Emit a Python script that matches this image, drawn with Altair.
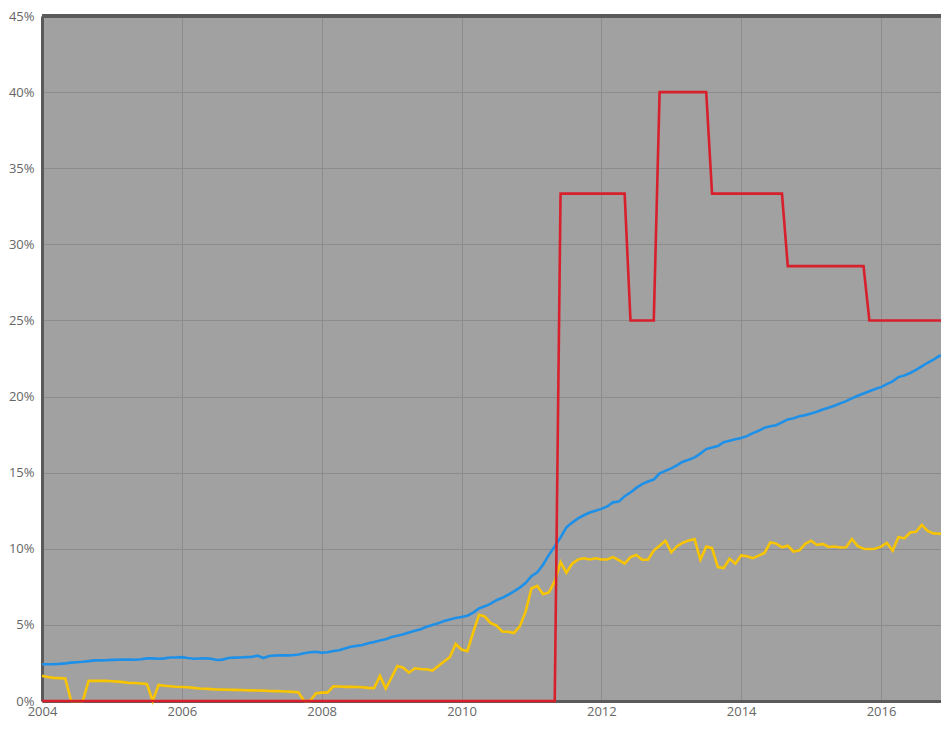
import altair as alt
import pandas as pd

# monthly series, 2004-01 .. 2017-01 (percent)
start_year = 2004
blue_vals = [
    2.41, 2.41, 2.42, 2.44, 2.47, 2.52, 2.55, 2.58, 2.62, 2.67, 2.67, 2.68,
    2.70, 2.71, 2.72, 2.72, 2.71, 2.74, 2.80, 2.80, 2.78, 2.80, 2.86, 2.86,
    2.88, 2.82, 2.78, 2.79, 2.80, 2.78, 2.69, 2.72, 2.82, 2.85, 2.86, 2.88,
    2.90, 2.98, 2.82, 2.96, 2.99, 3.00, 3.00, 3.01, 3.06, 3.14, 3.20, 3.23,
    3.17, 3.20, 3.28, 3.33, 3.45, 3.56, 3.62, 3.68, 3.80, 3.88, 3.97, 4.05,
    4.20, 4.28, 4.38, 4.50, 4.62, 4.72, 4.88, 5.00, 5.10, 5.25, 5.36, 5.45,
    5.52, 5.60, 5.80, 6.08, 6.22, 6.40, 6.62, 6.78, 6.98, 7.20, 7.45, 7.75,
    8.20, 8.45, 8.95, 9.60, 10.15, 10.75, 11.40, 11.72, 12.00, 12.20, 12.38, 12.50,
    12.62, 12.78, 13.05, 13.10, 13.45, 13.70, 14.00, 14.25, 14.42, 14.55, 14.95, 15.12,
    15.28, 15.50, 15.72, 15.85, 16.00, 16.25, 16.55, 16.65, 16.75, 17.00, 17.10, 17.20,
    17.28, 17.40, 17.60, 17.75, 17.95, 18.05, 18.12, 18.30, 18.50, 18.58, 18.70, 18.78,
    18.88, 19.00, 19.15, 19.27, 19.40, 19.55, 19.70, 19.88, 20.05, 20.20, 20.35, 20.50,
    20.62, 20.82, 21.00, 21.28, 21.38, 21.55, 21.75, 21.98, 22.22, 22.42, 22.67, 22.67,
    22.67,
]
yellow_vals = [
    1.65, 1.58, 1.52, 1.50, 1.48, 0.00, 0.00, 0.00, 1.32, 1.32, 1.32, 1.32,
    1.30, 1.27, 1.24, 1.18, 1.18, 1.15, 1.12, 0.00, 1.06, 1.00, 0.97, 0.94,
    0.92, 0.90, 0.86, 0.82, 0.80, 0.78, 0.76, 0.75, 0.74, 0.73, 0.72, 0.71,
    0.70, 0.69, 0.68, 0.66, 0.65, 0.64, 0.62, 0.60, 0.57, 0.00, 0.00, 0.50,
    0.55, 0.55, 0.96, 0.95, 0.93, 0.93, 0.92, 0.90, 0.86, 0.85, 1.65, 0.82,
    1.55, 2.30, 2.19, 1.86, 2.15, 2.10, 2.08, 2.00, 2.30, 2.60, 2.88, 3.75,
    3.38, 3.27, 4.50, 5.66, 5.55, 5.12, 4.96, 4.57, 4.55, 4.47, 4.90, 5.87,
    7.39, 7.56, 7.02, 7.13, 7.87, 9.12, 8.43, 9.02, 9.30, 9.38, 9.30, 9.38,
    9.30, 9.30, 9.45, 9.25, 9.02, 9.45, 9.60, 9.28, 9.28, 9.88, 10.20, 10.53,
    9.77, 10.17, 10.40, 10.55, 10.64, 9.28, 10.14, 10.04, 8.80, 8.73, 9.34, 9.02,
    9.56, 9.51, 9.38, 9.55, 9.73, 10.42, 10.34, 10.10, 10.20, 9.82, 9.90, 10.32,
    10.53, 10.25, 10.32, 10.12, 10.15, 10.08, 10.10, 10.64, 10.17, 10.00, 9.99, 10.00,
    10.14, 10.38, 9.88, 10.77, 10.68, 11.07, 11.12, 11.57, 11.18, 11.01, 10.99, 11.03,
    11.03,
]
# red series: corner points (year, month, percent)
red_points = [
    (2004, 1, 0.0), (2011, 5, 0.0), (2011, 6, 33.33), (2012, 5, 33.33),
    (2012, 6, 25.0), (2012, 10, 25.0), (2012, 11, 40.0), (2013, 7, 40.0),
    (2013, 8, 33.33), (2014, 8, 33.33), (2014, 9, 28.57), (2015, 10, 28.57),
    (2015, 11, 25.0), (2017, 1, 25.0),
]
year_ticks = [2004, 2006, 2008, 2010, 2012, 2014, 2016]
pct_ticks = [0, 5, 10, 15, 20, 25, 30, 35, 40, 45]

rows = []
for i, v in enumerate(blue_vals):
    rows.append({"t": start_year + i / 12, "v": v, "s": "blue"})
for i, v in enumerate(yellow_vals):
    rows.append({"t": start_year + i / 12, "v": v, "s": "yellow"})
for (yy, mm, v) in red_points:
    rows.append({"t": yy + (mm - 1) / 12, "v": v, "s": "red"})
df = pd.DataFrame(rows)

x_enc = alt.X(
    "t:Q",
    scale=alt.Scale(domain=[2004, 2016.858], nice=False, zero=False),
    axis=alt.Axis(values=year_ticks, format="d", title=None, ticks=False,
                  labelPadding=4, labelFlush=False, domainColor="#5a5a5a",
                  domainWidth=3, gridColor="#8c8c8c", gridWidth=1),
)
y_enc = alt.Y(
    "v:Q",
    scale=alt.Scale(domain=[0, 45], nice=False),
    axis=alt.Axis(values=pct_ticks, labelExpr="datum.value + '%'", title=None,
                  ticks=False, labelPadding=8, domainColor="#5a5a5a",
                  domainWidth=3, gridColor="#8c8c8c", gridWidth=1),
)

color_scale = alt.Scale(domain=["red", "yellow", "blue"],
                        range=["#d8202c", "#f8c500", "#1e90e8"])

lines = alt.Chart(df).mark_line(strokeWidth=2.6).encode(
    x=x_enc,
    y=y_enc,
    color=alt.Color("s:N", scale=color_scale, legend=None),
    detail="s:N",
    order="t:Q",
)

top = alt.Chart(df).mark_rule(color="#5a5a5a", strokeWidth=3).encode(
    y=alt.datum(45)
)

chart = alt.layer(lines, top).properties(
    width=899,
    height=685,
    autosize=alt.AutoSizeParams(type="none"),
    padding={"left": 34, "top": 8, "right": 0, "bottom": 20},
    background="white",
).configure_view(
    fill="#a1a1a1", stroke="transparent"
).configure_axis(
    labelFont="Open Sans", labelFontSize=13, labelColor="#666666",
)

chart.save("out.html", embed_options={"renderer": "svg", "actions": False})
